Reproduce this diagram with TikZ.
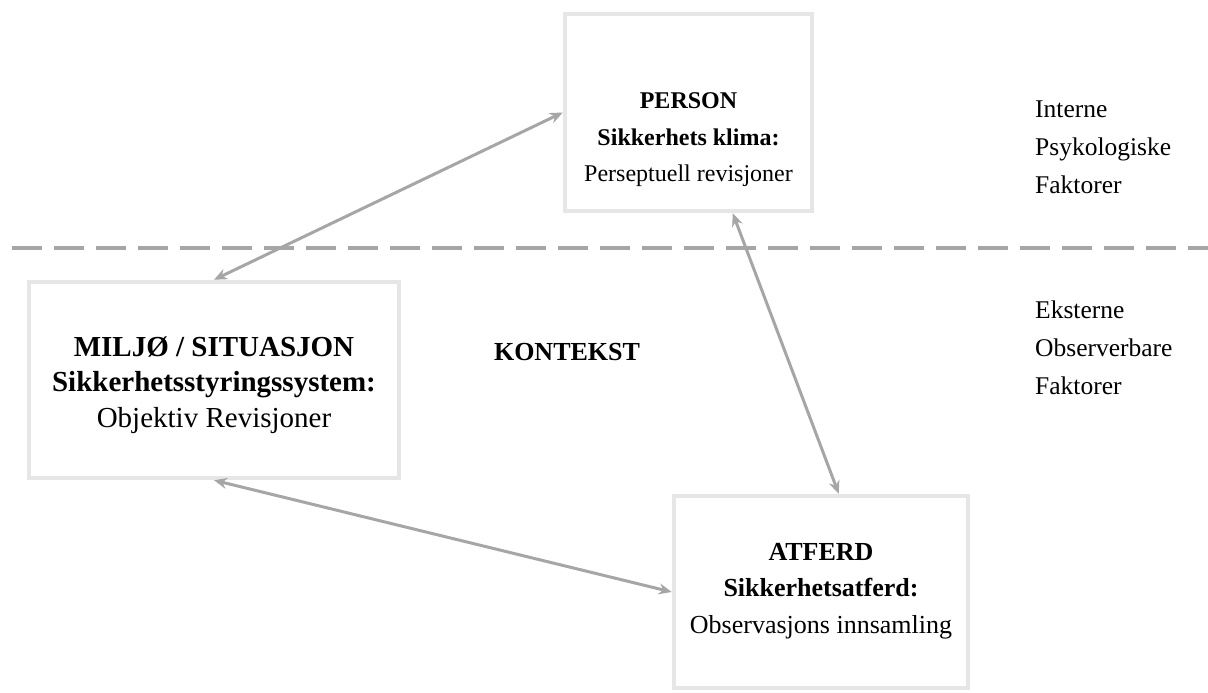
\documentclass[tikz,border=0pt]{standalone}
\usepackage{fontspec}
\setmainfont{Liberation Serif}
\usetikzlibrary{arrows.meta,calc}
\definecolor{boxgray}{HTML}{E6E6E6}
\definecolor{linegray}{HTML}{A6A6A6}
\begin{document}
\begin{tikzpicture}[x=1pt,y=-1pt,
  box/.style={draw=boxgray,line width=4.5pt,rectangle,inner sep=0pt},
  lbl/.style={align=center,inner sep=0pt},
  side/.style={align=left,anchor=west,font=\fontsize{25.5}{38}\selectfont,inner sep=0pt},
  conn/.style={draw=linegray,line width=3pt,{Stealth[length=13pt,width=11pt]}-{Stealth[length=13pt,width=11pt]}},
  dashline/.style={draw=linegray,line width=4pt,dash pattern=on 30pt off 12pt}]
\useasboundingbox (0,0) rectangle (1208,693);
% boxes
\node[box,minimum width=247pt,minimum height=197pt] (person) at (688.5,112.5) {};
\node[box,minimum width=370pt,minimum height=196pt] (miljo) at (214,380) {};
\node[box,minimum width=294pt,minimum height=192pt] (atferd) at (821,592) {};
% texts
\node[lbl,font=\fontsize{24}{36.5}\selectfont] (persontxt) at (688.5,140) {\textbf{PERSON}\\\textbf{Sikkerhets klima:}\\Perseptuell revisjoner};
\node[lbl,font=\fontsize{29}{35.5}\selectfont] (miljotxt) at (214,385) {\textbf{MILJØ / SITUASJON}\\\textbf{Sikkerhetsstyringssystem:}\\Objektiv Revisjoner};
\node[lbl,font=\fontsize{26}{36.5}\selectfont] (atferdtxt) at (821,591) {\textbf{ATFERD}\\\textbf{Sikkerhetsatferd:}\\Observasjons innsamling};
\node[lbl,font=\fontsize{26}{36}\selectfont] (kontekst) at (567,352) {\textbf{KONTEKST}};
\node[side] (interne) at (1035,147) {Interne\\Psykologiske\\Faktorer};
\node[side] (eksterne) at (1035,348) {Eksterne\\Observerbare\\Faktorer};
% dashed separator
\coordinate (d1) at (12,248);
\coordinate (d2) at (1208,248);
\draw[dashline] (d1) -- (d2);
% connectors
\draw[conn] (miljo.north) -- (person.west);
\draw[conn] ([xshift=170pt]person.south west) -- ([xshift=167pt]atferd.north west);
\draw[conn] (miljo.south) -- (atferd.west);
\end{tikzpicture}
\end{document}
